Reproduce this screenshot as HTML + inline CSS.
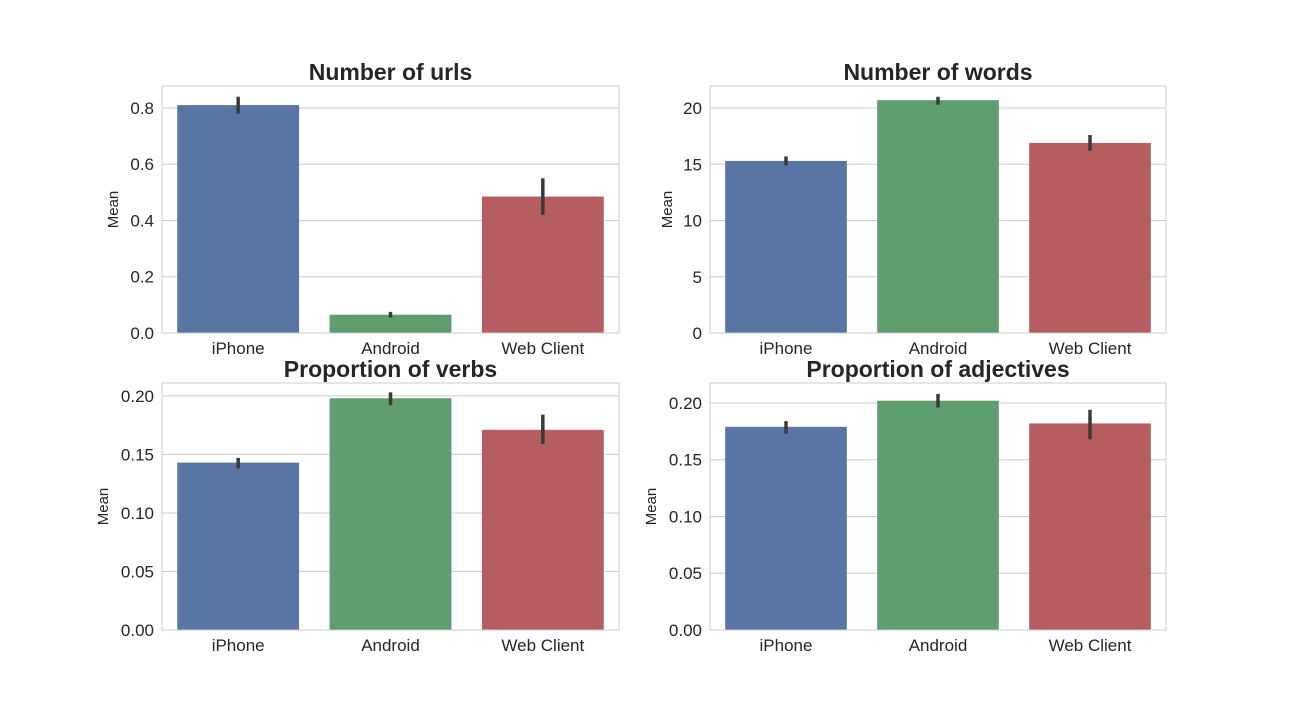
<!DOCTYPE html>
<html><head><meta charset="utf-8">
<style>
body{margin:0;background:#fff;}
svg{display:block;font-family:"Liberation Sans",Arial,sans-serif;}
</style></head>
<body>
<svg id="fig" width="1296" height="720"></svg>
<script>
const categories=["iPhone","Android","Web Client"];
const titles=["Number of urls","Number of words","Proportion of verbs","Proportion of adjectives"];
const urlsMean=[0.81,0.065,0.485];
const urlsLo=[0.78,0.055,0.42];
const urlsHi=[0.84,0.075,0.55];
const wordsMean=[15.3,20.7,16.9];
const wordsLo=[14.9,20.3,16.2];
const wordsHi=[15.7,21.0,17.6];
const verbsMean=[0.143,0.198,0.171];
const verbsLo=[0.138,0.192,0.159];
const verbsHi=[0.147,0.203,0.184];
const adjMean=[0.179,0.202,0.182];
const adjLo=[0.173,0.196,0.168];
const adjHi=[0.184,0.208,0.194];
const urlsTicks=[0,0.2,0.4,0.6,0.8];
const wordsTicks=[0,5,10,15,20];
const verbsTicks=[0,0.05,0.10,0.15,0.20];
const adjTicks=[0,0.05,0.10,0.15,0.20];
const urlsTickLabels=["0.0","0.2","0.4","0.6","0.8"];
const wordsTickLabels=["0","5","10","15","20"];
const verbsTickLabels=["0.00","0.05","0.10","0.15","0.20"];
const adjTickLabels=["0.00","0.05","0.10","0.15","0.20"];
const yMaxes=[0.878,21.96,0.211,0.2176];
const colors=["#5875a4","#5f9e6e","#b55d60"];

const NS="http://www.w3.org/2000/svg";
const svg=document.getElementById('fig');
function mk(tag,attrs,parent){const e=document.createElementNS(NS,tag);for(const k in attrs)e.setAttribute(k,attrs[k]);(parent||svg).appendChild(e);return e;}

const panels=[
 {x0:162,x1:619,y0:86,y1:333,m:urlsMean,lo:urlsLo,hi:urlsHi,t:urlsTicks,tl:urlsTickLabels,ylx:118},
 {x0:710,x1:1166,y0:86,y1:333,m:wordsMean,lo:wordsLo,hi:wordsHi,t:wordsTicks,tl:wordsTickLabels,ylx:672},
 {x0:162,x1:619,y0:383,y1:630,m:verbsMean,lo:verbsLo,hi:verbsHi,t:verbsTicks,tl:verbsTickLabels,ylx:108},
 {x0:710,x1:1166,y0:383,y1:630,m:adjMean,lo:adjLo,hi:adjHi,t:adjTicks,tl:adjTickLabels,ylx:656}
];
panels.forEach((p,i)=>{
 const g=mk('g',{});
 
 
 const ymax=yMaxes[i];
 const ys=v=>p.y1-(v/ymax)*(p.y1-p.y0);
 const bw=(p.x1-p.x0)/3;
 const xs=j=>p.x0+bw*(j+0.5);
 p.t.forEach((v,k)=>{
  const y=ys(v);
  const gl=mk('line',{x1:p.x0,x2:p.x1,y1:y,y2:y,stroke:'#cccccc','stroke-width':1},g);
  
  
  const tx=mk('text',{x:p.x0-8,y:y+6,'text-anchor':'end','font-size':17,fill:'#262626'},g);
  tx.textContent=p.tl[k];
  
  
 });
 p.m.forEach((v,j)=>{
  const w=bw*0.8;
  const r=mk('rect',{x:xs(j)-w/2,y:ys(v),width:w,height:p.y1-ys(v),fill:colors[j]},g);
  
  
  const e=mk('line',{x1:xs(j),x2:xs(j),y1:ys(p.lo[j]),y2:ys(p.hi[j]),stroke:'#3a3a3a','stroke-width':3.5},g);
  
  
  const tx=mk('text',{x:xs(j),y:p.y1+21,'text-anchor':'middle','font-size':17,fill:'#262626'},g);
  tx.textContent=categories[j];
  
  
 });
 const fr=mk('rect',{x:p.x0,y:p.y0,width:p.x1-p.x0,height:p.y1-p.y0,fill:'none',stroke:'#cccccc','stroke-width':1},g);
 
 
 const tt=mk('text',{x:(p.x0+p.x1)/2,y:p.y0-6,'text-anchor':'middle','font-size':23,'font-weight':'bold',fill:'#262626'},g);
 tt.textContent=titles[i];
 
 
 const yl=mk('text',{x:p.ylx,y:(p.y0+p.y1)/2,'text-anchor':'middle','font-size':15,fill:'#262626',transform:`rotate(-90 ${p.ylx} ${(p.y0+p.y1)/2})`},g);
 yl.textContent='Mean';
 
 
});
</script>
</body></html>
